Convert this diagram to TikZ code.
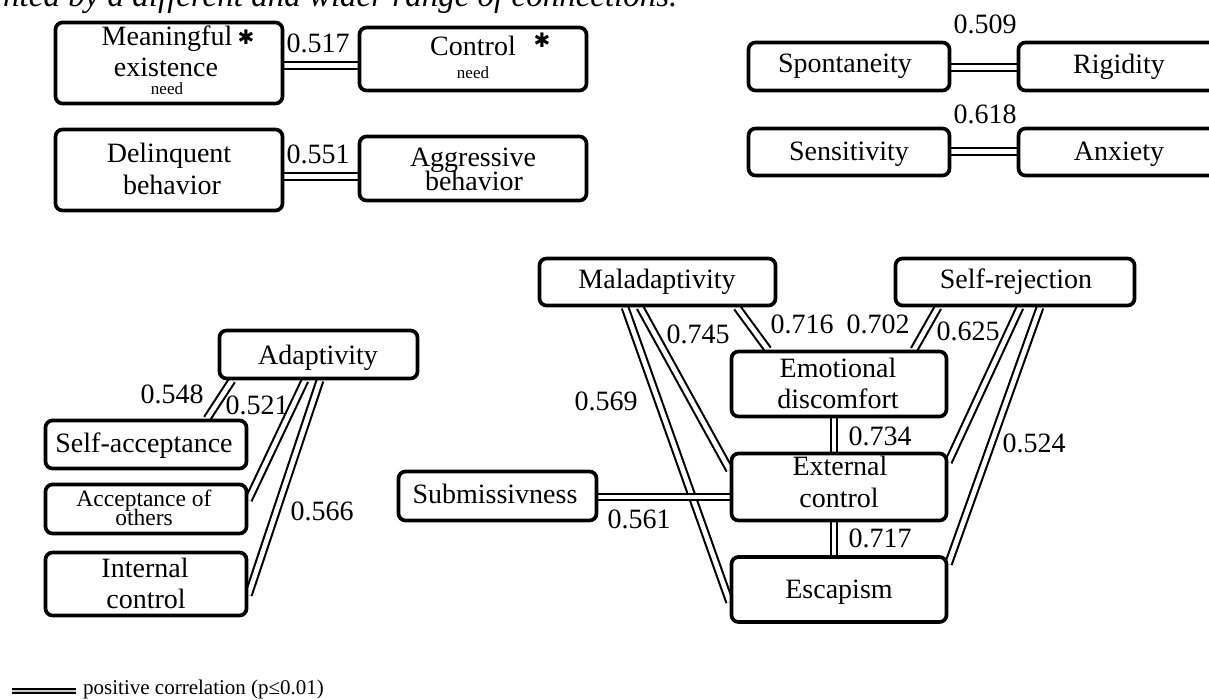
\documentclass[tikz,border=0pt]{standalone}
\usepackage{fontspec}
\setmainfont{Liberation Serif}
\newfontfamily\djv{DejaVu Sans}
\usetikzlibrary{backgrounds}
\begin{document}
\begin{tikzpicture}[x=1pt,y=-1pt,
  box/.style={draw, line width=3.7pt, rounded corners=7pt, fill=white, inner sep=0pt},
  txt/.style={anchor=base, inner sep=0pt, font=\fontsize{28}{28}\selectfont},
  mid/.style={anchor=base, inner sep=0pt, font=\fontsize{23.5}{24}\selectfont},
  tiny/.style={anchor=base, inner sep=0pt, font=\fontsize{17}{17}\selectfont},
  starmark/.style={anchor=center, inner sep=0pt, font=\djv\fontsize{20}{20}\selectfont},
  num/.style={anchor=base, inner sep=0pt, font=\fontsize{28}{28}\selectfont},
  conn/.style={draw, line width=2.1pt, double=white, double distance=4.6pt},
  legline/.style={draw, line width=2.3pt, double=gray!45, double distance=2pt}]
\useasboundingbox (0,0) rectangle (1209,699);

% cut-off line of text at the top
\node[anchor=base west, inner sep=0pt, font=\fontsize{33}{33}\selectfont\itshape] (toptext) at (3,6) {nted by a different and wider range of connections.};

% ---- boxes ----
\node[box, minimum width=227, minimum height=81] (mean) at (169,63) {};
\node[box, minimum width=227, minimum height=63] (ctrl) at (473,59) {};
\node[box, minimum width=227, minimum height=81] (delq) at (169,170) {};
\node[box, minimum width=227, minimum height=64] (aggr) at (473,168.5) {};
\node[box, minimum width=201, minimum height=48] (spont) at (849,66.5) {};
\node[box, minimum width=201, minimum height=48] (rigid) at (1119,66.5) {};
\node[box, minimum width=201, minimum height=47] (sens) at (849,152) {};
\node[box, minimum width=201, minimum height=47] (anx) at (1119,152) {};
\node[box, minimum width=198, minimum height=48] (adapt) at (318.5,354.5) {};
\node[box, minimum width=201, minimum height=48] (selfacc) at (146,444.5) {};
\node[box, minimum width=201, minimum height=49] (accoth) at (146,509) {};
\node[box, minimum width=201, minimum height=63] (intc) at (146,584) {};
\node[box, minimum width=236, minimum height=47] (mal) at (657.5,282) {};
\node[box, minimum width=239, minimum height=47] (srej) at (1015,282) {};
\node[box, minimum width=215, minimum height=65] (emo) at (839,384) {};
\node[box, minimum width=215, minimum height=67] (extc) at (839,487) {};
\node[box, minimum width=215, minimum height=65] (esc) at (839,589.5) {};
\node[box, minimum width=198, minimum height=49] (subm) at (497.5,496) {};

% ---- box texts ----
\node[txt] (tmean1) at (167,45) {Meaningful};
\node[starmark] (amean) at (246,37) {✱};
\node[txt] (tmean2) at (166,76) {existence};
\node[tiny] (tmean3) at (167,94) {need};
\node[txt] (tctrl1) at (473,55) {Control};
\node[starmark] (actrl) at (542,40) {✱};
\node[tiny] (tctrl2) at (473,78) {need};
\node[txt] (tdelq1) at (169,162) {Delinquent};
\node[txt] (tdelq2) at (172,194) {behavior};
\node[txt] (taggr1) at (473,166) {Aggressive};
\node[txt] (taggr2) at (474,190) {behavior};
\node[txt] (tspont) at (845,72) {Spontaneity};
\node[txt] (trigid) at (1119,73) {Rigidity};
\node[txt] (tsens) at (849,160) {Sensitivity};
\node[txt] (tanx) at (1119,160) {Anxiety};
\node[txt] (tadapt) at (318,364) {Adaptivity};
\node[txt] (tselfacc) at (144,452) {Self-acceptance};
\node[mid] (taccoth1) at (144,506) {Acceptance of};
\node[mid] (taccoth2) at (144,525) {others};
\node[txt] (tintc1) at (145,577) {Internal};
\node[txt] (tintc2) at (146,608) {control};
\node[txt] (tmal) at (657,288) {Maladaptivity};
\node[txt] (tsrej) at (1016,288) {Self-rejection};
\node[txt] (temo1) at (838,377) {Emotional};
\node[txt] (temo2) at (838,408) {discomfort};
\node[txt] (textc1) at (840,475) {External};
\node[txt] (textc2) at (839,507) {control};
\node[txt] (tesc) at (839,598) {Escapism};
\node[txt] (tsubm) at (495,503) {Submissivness};

% ---- correlation values ----
\node[num] (n517) at (318,52) {0.517};
\node[num] (n551) at (318,163) {0.551};
\node[num] (n509) at (985,33) {0.509};
\node[num] (n618) at (985,123) {0.618};
\node[num] (n548) at (172,403) {0.548};
\node[num] (n521) at (257,414) {0.521};
\node[num] (n566) at (322,520) {0.566};
\node[num] (n745) at (698,343) {0.745};
\node[num] (n716) at (802,333) {0.716};
\node[num] (n702) at (878,333) {0.702};
\node[num] (n625) at (968,340) {0.625};
\node[num] (n569) at (606,410) {0.569};
\node[num] (n734) at (880,445) {0.734};
\node[num] (n524) at (1034,452) {0.524};
\node[num] (n561) at (639,528) {0.561};
\node[num] (n717) at (880,547) {0.717};

% ---- connectors ----
\begin{scope}[on background layer]
\draw[conn] (mean.east |- 0,65.5) -- (ctrl.west |- 0,65.5);
\draw[conn] (delq.east |- 0,176.5) -- (aggr.west |- 0,176.5);
\draw[conn] (spont.east |- 0,67.5) -- (rigid.west |- 0,67.5);
\draw[conn] (sens.east |- 0,151.5) -- (anx.west |- 0,151.5);
\draw[conn] (adapt.south -| 232,0) -- (selfacc.north -| 207,0);
\draw[conn] (adapt.south -| 305,0) -- (accoth.east |- 0,500);
\draw[conn] (adapt.south -| 320,0) -- (intc.east |- 0,595);
\draw[conn] (mal.south -| 737,0) -- (emo.north -| 768,0);
\draw[conn] (mal.south -| 640,0) -- (extc.west |- 0,470);
\draw[conn] (mal.south -| 625,0) -- (esc.west |- 0,602);
\draw[conn] (srej.south -| 938,0) -- (emo.north -| 914,0);
\draw[conn] (srej.south -| 1020,0) -- (extc.east |- 0,462);
\draw[conn] (srej.south -| 1040,0) -- (esc.east |- 0,564);
\draw[conn] (emo.south -| 834,0) -- (extc.north -| 834,0);
\draw[conn] (extc.south -| 834,0) -- (esc.north -| 834,0);
\draw[conn] (subm.east |- 0,497) -- (extc.west |- 0,497);
\end{scope}

% ---- legend ----
\coordinate (lgA) at (12,691);
\coordinate (lgB) at (76,691);
\draw[legline] (lgA) -- (lgB);
\node[anchor=base west, inner sep=0pt, font=\fontsize{21}{21}\selectfont] (lgt) at (83,694) {positive correlation (p≤0.01)};
\end{tikzpicture}
\end{document}
